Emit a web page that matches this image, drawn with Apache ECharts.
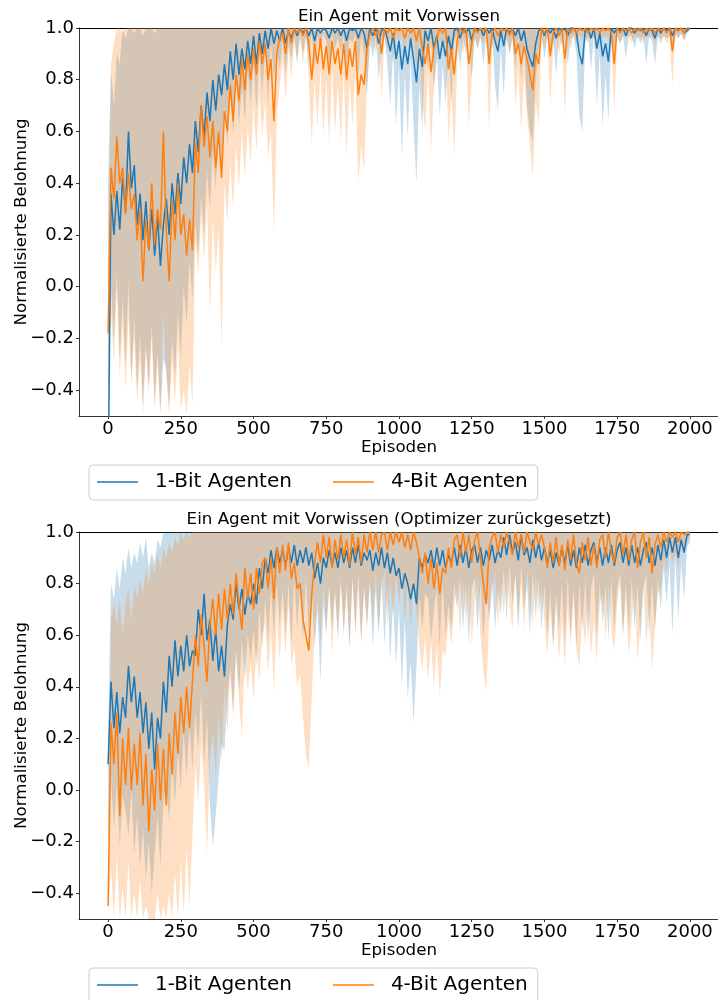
<!DOCTYPE html>
<html lang="de">
<head>
    <meta charset="UTF-8">
    <title>Ein Agent mit Vorwissen</title>
    <script src="https://cdn.jsdelivr.net/npm/echarts@6/dist/echarts.min.js"></script>
    <style>
        html, body { margin: 0; padding: 0; background: #fff; }
        #main { width: 718px; height: 1000px; }
    </style>
</head>
<body>
<div id="main"></div>
<script type="text/javascript">

    // one sample every STEP episodes, values in hundredths of the normalised reward
    var STEP = 10
    var xTicks = [0, 250, 500, 750, 1000, 1250, 1500, 1750, 2000]
    var yTicks = [-0.4, -0.2, 0.0, 0.2, 0.4, 0.6, 0.8, 1.0]
    var seriesNames = ['1-Bit Agenten', '4-Bit Agenten']
    var titles = ['Ein Agent mit Vorwissen', 'Ein Agent mit Vorwissen (Optimizer zurückgesetzt)']

    // ---- oberes Diagramm ----
    var top1Mean = [
        -80, 36, 20, 37, 22, 42, 29, 60, 38, 47,
        24, 36, 18, 33, 14, 30, 12, 27, 8, 24,
        34, 20, 40, 28, 44, 32, 50, 40, 55, 44,
        64, 52, 70, 58, 75, 64, 80, 68, 82, 74,
        86, 76, 91, 80, 94, 82, 92, 84, 95, 86,
        97, 86, 98, 90, 99, 92, 100, 94, 99, 95,
        100, 94, 99, 96, 100, 97, 100, 98, 100, 97,
        100, 95, 100, 98, 100, 99, 96, 100, 98, 100,
        97, 100, 95, 100, 99, 100, 96, 100, 98, 92,
        100, 97, 100, 94, 99, 100, 96, 91, 98, 88,
        95, 84, 93, 86, 96, 88, 79, 92, 85, 99,
        95, 100, 92, 97, 88, 95, 89, 97, 91, 99,
        100, 96, 100, 98, 100, 95, 100, 99, 100, 97,
        100, 98, 100, 95, 91, 99, 93, 100, 98, 100,
        97, 100, 95, 99, 92, 88, 85, 94, 99, 100,
        97, 100, 98, 100, 96, 100, 99, 100, 97, 100,
        100, 98, 90, 86, 99, 100, 96, 100, 92, 98,
        89, 94, 87, 100, 98, 100, 99, 100, 97, 100,
        100, 98, 100, 99, 100, 97, 100, 99, 96, 100,
        98, 100, 99, 100, 97, 100, 99, 100, 98, 99,
        100]
    var top1Low = [
        -100, 0, -20, 5, -28, -5, -30, 2, -35, -12,
        -40, -18, -45, -22, -38, -15, -44, -25, -48, -28,
        -32, -46, -20, -35, -10, -28, 0, -15, 10, -5,
        25, 12, 35, 20, 45, 30, 52, 38, 58, 48,
        70, 55, 76, 58, 80, 62, 78, 64, 84, 70,
        86, 68, 90, 74, 92, 70, 94, 80, 92, 84,
        96, 82, 94, 88, 97, 86, 98, 90, 97, 88,
        98, 84, 97, 92, 98, 95, 86, 98, 92, 96,
        90, 97, 84, 96, 94, 98, 82, 97, 90, 74,
        96, 88, 97, 80, 94, 97, 86, 70, 92, 62,
        85, 50, 82, 58, 88, 62, 40, 78, 60, 94,
        84, 96, 76, 90, 66, 86, 70, 90, 72, 95,
        97, 84, 96, 90, 97, 80, 96, 92, 97, 86,
        96, 90, 97, 78, 68, 92, 74, 96, 90, 96,
        84, 96, 80, 94, 70, 60, 56, 80, 92, 97,
        88, 97, 90, 96, 82, 97, 93, 97, 86, 96,
        97, 90, 66, 60, 94, 97, 84, 97, 70, 90,
        62, 82, 64, 96, 92, 97, 94, 97, 88, 97,
        97, 92, 97, 94, 97, 86, 97, 95, 86, 97,
        94, 97, 96, 97, 90, 98, 96, 98, 95, 98,
        99]
    var top1Up = [
        40, 84, 70, 90, 86, 100, 96, 100, 100, 98,
        100, 100, 97, 100, 100, 100, 98, 100, 100, 100,
        100, 100, 100, 100, 100, 100, 100, 100, 100, 100,
        100, 100, 100, 100, 100, 100, 100, 100, 100, 100,
        100, 100, 100, 100, 100, 100, 100, 100, 100, 100,
        100, 100, 100, 100, 100, 100, 100, 100, 100, 100,
        100, 100, 100, 100, 100, 100, 100, 100, 100, 100,
        100, 100, 100, 100, 100, 100, 100, 100, 100, 100,
        100, 100, 100, 100, 100, 100, 100, 100, 100, 100,
        100, 100, 100, 100, 100, 100, 100, 100, 100, 100,
        100, 100, 100, 100, 100, 100, 100, 100, 100, 100,
        100, 100, 100, 100, 100, 100, 100, 100, 100, 100,
        100, 100, 100, 100, 100, 100, 100, 100, 100, 100,
        100, 100, 100, 100, 100, 100, 100, 100, 100, 100,
        100, 100, 100, 100, 100, 100, 100, 100, 100, 100,
        100, 100, 100, 100, 100, 100, 100, 100, 100, 100,
        100, 100, 100, 100, 100, 100, 100, 100, 100, 100,
        100, 100, 100, 100, 100, 100, 100, 100, 100, 100,
        100, 100, 100, 100, 100, 100, 100, 100, 100, 100,
        100, 100, 100, 100, 100, 100, 100, 100, 100, 100,
        100]
    var top4Mean = [
        -18, 46, 34, 58, 40, 46, 28, 44, 30, 36,
        18, 30, 2, 26, 14, 40, 16, 30, 22, 60,
        22, 2, 34, 18, 40, 20, 28, 12, 26, 14,
        56, 44, 70, 54, 66, 50, 64, 46, 60, 42,
        68, 60, 78, 64, 82, 72, 88, 76, 90, 80,
        92, 82, 95, 86, 94, 80, 88, 64, 90, 96,
        98, 90, 100, 94, 100, 98, 100, 97, 100, 94,
        80, 94, 86, 96, 84, 93, 82, 95, 86, 92,
        82, 94, 80, 92, 85, 95, 74, 82, 78, 92,
        98, 100, 97, 100, 90, 100, 98, 100, 96, 100,
        99, 100, 96, 100, 98, 100, 95, 100, 92, 86,
        94, 83, 92, 96, 100, 98, 100, 84, 92, 82,
        95, 100, 98, 100, 86, 94, 100, 98, 100, 99,
        100, 86, 98, 100, 97, 100, 99, 100, 97, 100,
        90, 94, 86, 93, 88, 82, 76, 90, 86, 100,
        98, 100, 89, 98, 100, 97, 100, 88, 100, 98,
        100, 98, 100, 99, 100, 98, 100, 99, 100, 98,
        100, 99, 100, 98, 86, 100, 98, 100, 99, 100,
        98, 100, 99, 100, 98, 100, 99, 100, 98, 100,
        99, 100, 98, 100, 91, 100, 99, 100, 98, 100,
        100]
    var top4Low = [
        -40, -10, -30, 0, -35, -15, -40, -12, -38, -20,
        -45, -28, -50, -25, -42, -20, -48, -30, -52, -10,
        -35, -50, -28, -45, -22, -48, -40, -55, -30, -46,
        18, 4, 28, 10, 32, -12, 26, 6, 22, -24,
        40, 25, 48, 30, 55, 38, 60, 42, 62, 48,
        70, 52, 75, 58, 72, 50, 60, 20, 66, 78,
        88, 72, 92, 80, 95, 88, 96, 86, 97, 80,
        55, 80, 62, 84, 58, 80, 55, 84, 60, 78,
        56, 82, 50, 80, 62, 84, 40, 55, 45, 78,
        92, 96, 90, 97, 72, 96, 92, 97, 86, 97,
        94, 97, 88, 97, 92, 97, 84, 96, 72, 60,
        84, 52, 78, 88, 96, 92, 96, 56, 75, 50,
        86, 96, 90, 97, 62, 82, 97, 92, 96, 94,
        97, 60, 92, 97, 90, 97, 94, 97, 90, 96,
        70, 84, 60, 82, 66, 55, 42, 72, 62, 96,
        92, 97, 70, 92, 97, 90, 97, 66, 97, 92,
        97, 94, 97, 96, 97, 94, 97, 96, 97, 94,
        97, 96, 97, 94, 68, 97, 94, 97, 96, 97,
        94, 97, 96, 97, 94, 97, 96, 97, 94, 97,
        96, 97, 94, 97, 78, 98, 96, 98, 95, 99,
        99]
    var top4Up = [
        10, 86, 94, 100, 100, 98, 100, 100, 100, 100,
        100, 100, 100, 100, 100, 100, 100, 100, 100, 100,
        100, 100, 100, 100, 100, 100, 100, 100, 100, 100,
        100, 100, 100, 100, 100, 100, 100, 100, 100, 100,
        100, 100, 100, 100, 100, 100, 100, 100, 100, 100,
        100, 100, 100, 100, 100, 100, 100, 100, 100, 100,
        100, 100, 100, 100, 100, 100, 100, 100, 100, 100,
        100, 100, 100, 100, 100, 100, 100, 100, 100, 100,
        100, 100, 100, 100, 100, 100, 100, 100, 100, 100,
        100, 100, 100, 100, 100, 100, 100, 100, 100, 100,
        100, 100, 100, 100, 100, 100, 100, 100, 100, 100,
        100, 100, 100, 100, 100, 100, 100, 100, 100, 100,
        100, 100, 100, 100, 100, 100, 100, 100, 100, 100,
        100, 100, 100, 100, 100, 100, 100, 100, 100, 100,
        100, 100, 100, 100, 100, 100, 100, 100, 100, 100,
        100, 100, 100, 100, 100, 100, 100, 100, 100, 100,
        100, 100, 100, 100, 100, 100, 100, 100, 100, 100,
        100, 100, 100, 100, 100, 100, 100, 100, 100, 100,
        100, 100, 100, 100, 100, 100, 100, 100, 100, 100,
        100, 100, 100, 100, 100, 100, 100, 100, 100, 100,
        100]

    // ---- unteres Diagramm (Optimizer zurückgesetzt) ----
    var bot1Mean = [
        10, 42, 24, 38, 22, 36, 28, 48, 34, 44,
        28, 38, 22, 34, 16, 30, 8, 28, 20, 42,
        30, 52, 40, 58, 44, 56, 46, 60, 48, 54,
        52, 70, 60, 76, 58, 66, 50, 62, 46, 56,
        44, 64, 72, 66, 80, 70, 78, 68, 76, 72,
        80, 72, 86, 78, 90, 84, 93, 86, 94, 88,
        93, 87, 94, 88, 95, 87, 93, 88, 94, 87,
        92, 82, 88, 80, 90, 86, 93, 87, 92, 86,
        94, 88, 93, 86, 94, 88, 95, 87, 92, 89,
        93, 85, 92, 87, 94, 86, 92, 84, 90, 83,
        86, 78, 84, 80, 74, 80, 72, 90, 86, 91,
        88, 93, 86, 94, 87, 93, 86, 91, 88, 94,
        87, 95, 88, 94, 86, 93, 95, 88, 94, 87,
        93, 89, 95, 88, 93, 90, 98, 91, 99, 92,
        96, 89, 99, 91, 94, 88, 97, 90, 96, 89,
        94, 88, 93, 86, 92, 87, 94, 88, 95, 87,
        93, 86, 94, 88, 95, 87, 93, 96, 88, 94,
        87, 94, 88, 95, 87, 93, 96, 88, 94, 87,
        95, 88, 94, 87, 93, 96, 88, 94, 87, 95,
        89, 97, 90, 98, 92, 98, 90, 97, 92, 99,
        99]
    var bot1Low = [
        -20, 5, -15, 2, -22, -2, -8, -18, 0, -25,
        -10, -30, -15, -35, -20, -40, -25, -10, -30, -5,
        2, -12, 10, -5, 15, 0, 22, 5, 25, 8,
        30, 15, 38, 10, 28, -5, -22, -10, 5, 18,
        15, 35, 48, 30, 55, 38, 58, 42, 60, 50,
        62, 48, 70, 55, 74, 58, 78, 60, 80, 64,
        78, 60, 80, 56, 82, 62, 80, 58, 82, 60,
        78, 55, 70, 42, 72, 60, 80, 62, 78, 58,
        82, 60, 80, 55, 82, 62, 84, 58, 78, 64,
        80, 55, 78, 60, 82, 56, 78, 50, 74, 48,
        70, 40, 66, 35, 50, 26, 48, 75, 62, 76,
        74, 58, 70, 78, 55, 80, 60, 72, 62, 80,
        70, 82, 62, 80, 56, 78, 82, 62, 80, 58,
        78, 66, 82, 62, 78, 68, 86, 66, 88, 72,
        84, 62, 88, 70, 80, 60, 85, 66, 82, 62,
        80, 60, 78, 55, 76, 62, 80, 58, 82, 60,
        78, 56, 80, 62, 82, 58, 78, 84, 60, 80,
        64, 80, 58, 82, 62, 78, 84, 60, 80, 62,
        82, 62, 80, 58, 78, 84, 60, 80, 62, 82,
        70, 86, 72, 88, 60, 90, 66, 88, 74, 94,
        96]
    var bot1Up = [
        20, 80, 74, 86, 78, 90, 84, 94, 86, 92,
        88, 96, 90, 98, 86, 92, 88, 97, 94, 100,
        100, 100, 100, 100, 100, 100, 100, 100, 100, 100,
        100, 100, 100, 100, 100, 100, 100, 100, 100, 100,
        100, 100, 100, 100, 100, 100, 100, 100, 100, 100,
        100, 100, 100, 100, 100, 100, 100, 100, 100, 100,
        100, 100, 100, 100, 100, 100, 100, 100, 100, 100,
        100, 100, 100, 100, 100, 100, 100, 100, 100, 100,
        100, 100, 100, 100, 100, 100, 100, 100, 100, 100,
        100, 100, 100, 100, 100, 100, 100, 100, 100, 100,
        100, 100, 100, 100, 100, 100, 100, 100, 100, 100,
        100, 100, 100, 100, 100, 100, 100, 100, 100, 100,
        100, 100, 100, 100, 100, 100, 100, 100, 100, 100,
        100, 100, 100, 100, 100, 100, 100, 100, 100, 100,
        100, 100, 100, 100, 100, 100, 100, 100, 100, 100,
        100, 100, 100, 100, 100, 100, 100, 100, 100, 100,
        100, 100, 100, 100, 100, 100, 100, 100, 100, 100,
        100, 100, 100, 100, 100, 100, 100, 100, 100, 100,
        100, 100, 100, 100, 100, 100, 100, 100, 100, 100,
        100, 100, 100, 100, 100, 100, 100, 100, 100, 100,
        100]
    var bot4Mean = [
        -45, 26, 10, 30, -10, 20, 2, 24, 0, 18,
        2, 22, -6, 14, -16, 8, -8, 18, -4, 16,
        -6, 22, 6, 30, 14, 36, 22, 40, 24, 42,
        60, 48, 68, 56, 42, 64, 74, 60, 76, 62,
        78, 66, 80, 68, 84, 72, 62, 86, 74, 84,
        70, 86, 76, 88, 90, 78, 90, 74, 94, 84,
        95, 85, 96, 82, 88, 78, 80, 66, 60, 54,
        76, 88, 96, 88, 99, 90, 98, 86, 97, 89,
        99, 90, 97, 87, 100, 91, 98, 88, 99, 92,
        100, 93, 100, 92, 99, 100, 93, 100, 95, 100,
        96, 100, 94, 99, 93, 100, 96, 90, 84, 92,
        80, 90, 78, 88, 76, 86, 84, 94, 86, 97,
        99, 90, 100, 92, 99, 88, 97, 100, 90, 80,
        72, 94, 98, 100, 92, 99, 94, 100, 96, 91,
        100, 94, 99, 92, 100, 96, 93, 100, 95, 99,
        94, 86, 96, 88, 98, 87, 95, 85, 97, 89,
        99, 88, 84, 96, 89, 98, 87, 95, 86, 97,
        99, 90, 100, 92, 88, 98, 100, 91, 99, 89,
        97, 100, 86, 96, 100, 90, 98, 84, 95, 99,
        94, 100, 96, 100, 98, 100, 96, 100, 99, 100,
        100]
    var bot4Low = [
        -80, -30, -55, -25, -70, -38, -60, -28, -65, -40,
        -58, -35, -75, -45, -80, -50, -70, -40, -68, -45,
        -72, -40, -62, -32, -55, -28, -48, -22, -45, -18,
        10, -5, 18, 2, -25, 12, 22, 5, 28, 10,
        40, 22, 45, 28, 52, 35, 20, 55, 38, 50,
        35, 55, 42, 60, 65, 45, 62, 38, 68, 50,
        70, 52, 72, 48, 55, 40, 45, 28, 14, 8,
        36, 62, 74, 58, 80, 62, 78, 52, 76, 60,
        80, 62, 76, 55, 82, 60, 78, 56, 80, 62,
        82, 66, 84, 62, 78, 86, 64, 82, 66, 84,
        72, 84, 66, 80, 62, 82, 70, 56, 46, 60,
        42, 58, 40, 56, 36, 54, 52, 66, 56, 72,
        78, 60, 82, 64, 80, 56, 72, 82, 60, 46,
        38, 66, 76, 84, 64, 80, 68, 84, 72, 62,
        84, 66, 80, 62, 86, 72, 64, 84, 68, 78,
        66, 52, 70, 56, 72, 50, 66, 48, 70, 56,
        74, 54, 48, 68, 56, 74, 52, 66, 50, 72,
        76, 58, 80, 62, 54, 72, 80, 60, 74, 52,
        66, 78, 50, 64, 80, 56, 72, 46, 64, 76,
        78, 90, 84, 94, 88, 92, 86, 95, 93, 96,
        98]
    var bot4Up = [
        -30, 66, 72, 64, 74, 60, 72, 78, 66, 80,
        74, 82, 76, 86, 80, 88, 84, 92, 86, 94,
        90, 96, 92, 98, 95, 100, 97, 100, 98, 100,
        100, 100, 100, 100, 100, 100, 100, 100, 100, 100,
        100, 100, 100, 100, 100, 100, 100, 100, 100, 100,
        100, 100, 100, 100, 100, 100, 100, 100, 100, 100,
        100, 100, 100, 100, 100, 100, 100, 100, 100, 100,
        100, 100, 100, 100, 100, 100, 100, 100, 100, 100,
        100, 100, 100, 100, 100, 100, 100, 100, 100, 100,
        100, 100, 100, 100, 100, 100, 100, 100, 100, 100,
        100, 100, 100, 100, 100, 100, 100, 100, 100, 100,
        100, 100, 100, 100, 100, 100, 100, 100, 100, 100,
        100, 100, 100, 100, 100, 100, 100, 100, 100, 100,
        100, 100, 100, 100, 100, 100, 100, 100, 100, 100,
        100, 100, 100, 100, 100, 100, 100, 100, 100, 100,
        100, 100, 100, 100, 100, 100, 100, 100, 100, 100,
        100, 100, 100, 100, 100, 100, 100, 100, 100, 100,
        100, 100, 100, 100, 100, 100, 100, 100, 100, 100,
        100, 100, 100, 100, 100, 100, 100, 100, 100, 100,
        100, 100, 100, 100, 100, 100, 100, 100, 100, 100,
        100]

    var FONT = 'DejaVu Sans'
    var BLUE = '#1f77b4'
    var ORANGE = '#ff7f0e'
    var BLUE_BAND = 'rgba(31,119,180,0.25)'
    var ORANGE_BAND = 'rgba(255,127,14,0.25)'
    var Y_MIN = -0.5, Y_MAX = 1.0, X_MIN = -100, X_MAX = 2100

    var panels = [
        {title: titles[0], gridTop: 28, gridHeight: 388, titleTop: 8, legendTop: 465,
            m1: top1Mean, l1: top1Low, u1: top1Up, m4: top4Mean, l4: top4Low, u4: top4Up},
        {title: titles[1], gridTop: 532, gridHeight: 387, titleTop: 511.5, legendTop: 968,
            m1: bot1Mean, l1: bot1Low, u1: bot1Up, m4: bot4Mean, l4: bot4Low, u4: bot4Up}
    ]

    function toPoints(arr) {
        var out = []
        for (var i = 0; i < arr.length; i++) out.push([i * STEP, arr[i] / 100])
        return out
    }

    function fmtY(v) {
        var s = Math.abs(v).toFixed(1)
        return v < -1e-9 ? '\u2212' + s : s
    }

    // filled band between low and up, drawn as one polygon through the axis scales
    function bandSeries(g, low, up, color) {
        return {
            type: 'custom', xAxisIndex: 2 * g, yAxisIndex: 2 * g,
            clip: true, silent: true, z: 1,
            data: [[0, 0]],
            encode: {x: 0, y: 1},
            renderItem: function (params, api) {
                var pts = [], i
                for (i = 0; i < up.length; i++) {
                    pts.push(api.coord([i * STEP, Math.max(up[i] / 100, Y_MIN)]))
                }
                for (i = low.length - 1; i >= 0; i--) {
                    pts.push(api.coord([i * STEP, Math.max(low[i] / 100, Y_MIN)]))
                }
                return {type: 'polygon', shape: {points: pts}, style: {fill: color}}
            }
        }
    }

    function lineSeries(g, name, arr, color) {
        return {
            type: 'line', name: name, xAxisIndex: 2 * g, yAxisIndex: 2 * g,
            data: toPoints(arr), symbol: 'none', showSymbol: false, clip: true, z: 3,
            lineStyle: {width: 1.5, color: color}, itemStyle: {color: color},
            emphasis: {disabled: true}
        }
    }

    var option = {
        backgroundColor: '#fff',
        animation: false,
        title: [], grid: [], xAxis: [], yAxis: [], legend: [], series: []
    }

    panels.forEach(function (p, g) {
        option.title.push({
            text: p.title, left: 399, top: p.titleTop, textAlign: 'center', padding: 0,
            textStyle: {fontFamily: FONT, fontSize: 16.7, fontWeight: 'normal', color: '#000'}
        })
        option.grid.push({left: 79, top: p.gridTop, width: 640, height: p.gridHeight,
            containLabel: false, outerBoundsMode: 'none'})
        // bottom axis
        option.xAxis.push({
            type: 'value', gridIndex: g, position: 'bottom', min: X_MIN, max: X_MAX,
            name: 'Episoden', nameLocation: 'middle', nameGap: 23, nameMoveOverlap: false,
            nameTextStyle: {fontFamily: FONT, fontSize: 16.7, color: '#000'},
            axisLine: {show: true, onZero: false, lineStyle: {color: '#333', width: 1}},
            axisTick: {show: true, length: 3, lineStyle: {color: '#333'}, customValues: xTicks},
            axisLabel: {fontFamily: FONT, fontSize: 18, color: '#000', margin: 4,
                customValues: xTicks, formatter: function (v) { return String(v) }},
            splitLine: {show: false}
        })
        // top frame
        option.xAxis.push({
            type: 'value', gridIndex: g, position: 'top', min: X_MIN, max: X_MAX,
            axisLine: {show: true, onZero: false, lineStyle: {color: '#000', width: 1}},
            axisTick: {show: false}, axisLabel: {show: false}, splitLine: {show: false}
        })
        option.yAxis.push({
            type: 'value', gridIndex: g, position: 'left', min: Y_MIN, max: Y_MAX,
            name: 'Normalisierte Belohnung', nameLocation: 'middle', nameGap: 49,
            nameMoveOverlap: false,
            nameTextStyle: {fontFamily: FONT, fontSize: 16.7, color: '#000'},
            axisLine: {show: true, onZero: false, lineStyle: {color: '#333', width: 1}},
            axisTick: {show: true, length: 3, lineStyle: {color: '#333'}, customValues: yTicks},
            axisLabel: {fontFamily: FONT, fontSize: 18, color: '#000', margin: 5,
                customValues: yTicks, formatter: fmtY},
            splitLine: {show: false}
        })
        // right frame
        option.yAxis.push({
            type: 'value', gridIndex: g, position: 'right', min: Y_MIN, max: Y_MAX,
            axisLine: {show: true, onZero: false, lineStyle: {color: '#000', width: 1}},
            axisTick: {show: false}, axisLabel: {show: false}, splitLine: {show: false}
        })
        option.legend.push({
            data: seriesNames, left: 89, top: p.legendTop, orient: 'horizontal',
            icon: 'rect', itemWidth: 41, itemHeight: 1.5, itemGap: 41,
            padding: [7, 10, 8, 8], borderColor: '#cccccc', borderWidth: 1, borderRadius: 4,
            backgroundColor: '#fff', selectedMode: false,
            textStyle: {fontFamily: FONT, fontSize: 20, color: '#000', padding: [0, 0, 0, 12]}
        })

        option.series.push(bandSeries(g, p.l1, p.u1, BLUE_BAND))
        option.series.push(bandSeries(g, p.l4, p.u4, ORANGE_BAND))
        option.series.push(lineSeries(g, seriesNames[0], p.m1, BLUE))
        option.series.push(lineSeries(g, seriesNames[1], p.m4, ORANGE))
    })

    var myChart = echarts.init(document.getElementById('main'))
    myChart.setOption(option)

</script>
</body>
</html>
